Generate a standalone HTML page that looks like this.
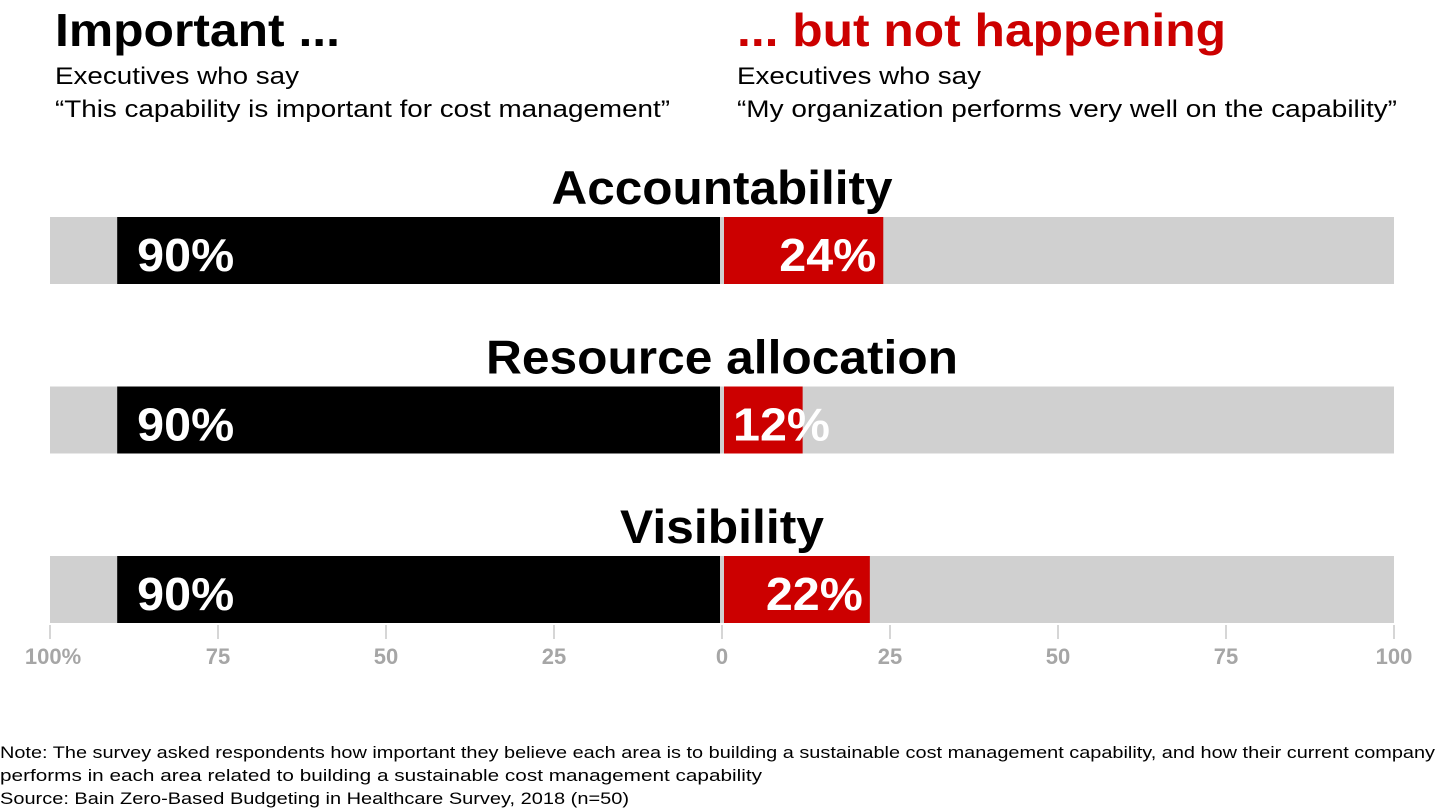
<!DOCTYPE html>
<html><head><meta charset="utf-8"><style>
html,body{margin:0;padding:0;background:#fff;}
svg{display:block;font-family:"Liberation Sans",Arial,sans-serif;}
</style></head><body>
<svg id="chart" width="1440" height="810" viewBox="0 0 1440 810" xmlns="http://www.w3.org/2000/svg">
<g>
<text x="55" y="46" font-size="46" font-weight="bold" textLength="285" lengthAdjust="spacingAndGlyphs">Important ...</text>
<text x="55" y="84" font-size="24" textLength="244" lengthAdjust="spacingAndGlyphs">Executives who say</text>
<text x="55" y="117" font-size="24" textLength="615" lengthAdjust="spacingAndGlyphs">“This capability is important for cost management”</text>
</g>
<g>
<text x="737" y="46" font-size="46" font-weight="bold" fill="#cc0000" textLength="489" lengthAdjust="spacingAndGlyphs">... but not happening</text>
<text x="737" y="84" font-size="24" textLength="244" lengthAdjust="spacingAndGlyphs">Executives who say</text>
<text x="737" y="117" font-size="24" textLength="660" lengthAdjust="spacingAndGlyphs">“My organization performs very well on the capability”</text>
</g>
<g id="plot"></g>
<g font-size="17">
<text x="0" y="758" textLength="1435" lengthAdjust="spacingAndGlyphs">Note: The survey asked respondents how important they believe each area is to building a sustainable cost management capability, and how their current company</text>
<text x="0" y="781" textLength="762" lengthAdjust="spacingAndGlyphs">performs in each area related to building a sustainable cost management capability</text>
<text x="0" y="804" textLength="629" lengthAdjust="spacingAndGlyphs">Source: Bain Zero-Based Budgeting in Healthcare Survey, 2018 (n=50)</text>
</g>
</svg>
<script>
const categories = ["Accountability", "Resource allocation", "Visibility"];
const importantValues = [90, 90, 90];
const performValues = [24, 12, 22];
const tickValues = [-100, -75, -50, -25, 0, 25, 50, 75, 100];
const tickLabels = ["100%", "75", "50", "25", "0", "25", "50", "75", "100"];

const NS = "http://www.w3.org/2000/svg";
const plot = document.getElementById("plot");
const cx = 722, unit = 6.72;
const xScale = v => cx + v * unit;
const rowTop = i => 217 + i * 169.5;
const barH = 67;
const titleWidths = [341, 472, 204];
function mk(tag, attrs, parent) {
  const e = document.createElementNS(NS, tag);
  for (const k in attrs) e.setAttribute(k, attrs[k]);
  parent.appendChild(e);
  return e;
}
categories.forEach((c, i) => {
  const y = rowTop(i);
  const g = mk("g", {}, plot);
  
  
  const t = mk("text", {x: cx, y: y - 13, "font-size": 47, "font-weight": "bold", "text-anchor": "middle", textLength: titleWidths[i], lengthAdjust: "spacingAndGlyphs"}, g);
  
  
  t.textContent = c;
  const bg = mk("rect", {x: xScale(-100), y: y, width: xScale(100) - xScale(-100), height: barH, fill: "#d0d0d0"}, g);
  
  
  const bl = mk("rect", {x: xScale(-importantValues[i]), y: y, width: xScale(0) - 2 - xScale(-importantValues[i]), height: barH, fill: "#000"}, g);
  
  
  const rd = mk("rect", {x: xScale(0) + 2, y: y, width: xScale(performValues[i]) - xScale(0) - 2, height: barH, fill: "#cc0000"}, g);
  
  
  const l1 = mk("text", {x: xScale(-importantValues[i]) + 20, y: y + 54, "font-size": 46, "font-weight": "bold", fill: "#fff", textLength: 97, lengthAdjust: "spacingAndGlyphs"}, g);
  
  
  l1.textContent = importantValues[i] + "%";
  const lx = Math.max(xScale(performValues[i]) - 104, xScale(0) + 11);
  const l2 = mk("text", {x: lx, y: y + 54, "font-size": 46, "font-weight": "bold", fill: "#fff", textLength: 97, lengthAdjust: "spacingAndGlyphs"}, g);
  
  
  l2.textContent = performValues[i] + "%";
});
const ax = mk("g", {}, plot);


tickValues.forEach((v, i) => {
  const x = xScale(v);
  const tk = mk("line", {x1: x, x2: x, y1: 625, y2: 639, stroke: "#c8c8c8", "stroke-width": 1.5}, ax);
  
  
  const tl = mk("text", {x: i === 0 ? x + 3 : x, y: 664, "font-size": 22, "font-weight": "bold", fill: "#a6a6a6", "text-anchor": "middle"}, ax);
  
  
  tl.textContent = tickLabels[i];
});
</script>
</body></html>
